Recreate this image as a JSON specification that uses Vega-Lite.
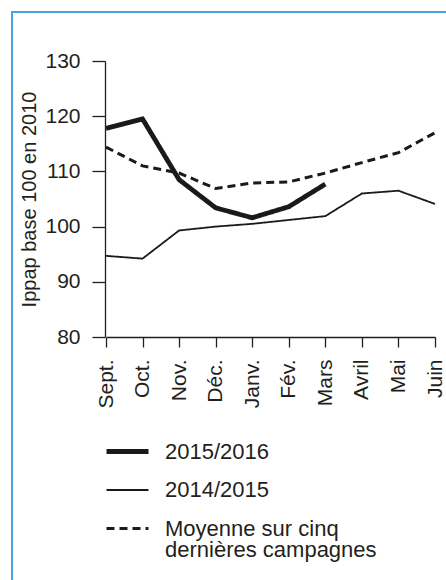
{
  "$schema": "https://vega.github.io/schema/vega-lite/v6.json",
  "width": 440,
  "height": 575,
  "autosize": {"type": "none"},
  "padding": {"left": 12, "top": 12, "right": 0, "bottom": 0},
  "background": "white",
  "config": {
    "view": {"stroke": "#4aa3df", "strokeWidth": 2},
    "font": "Liberation Sans"
  },
  "data": {
    "values": [
      {"mois": "Sept.", "serie": "2015/2016", "valeur": 117.8},
      {"mois": "Oct.", "serie": "2015/2016", "valeur": 119.5},
      {"mois": "Nov.", "serie": "2015/2016", "valeur": 108.5},
      {"mois": "Déc.", "serie": "2015/2016", "valeur": 103.4},
      {"mois": "Janv.", "serie": "2015/2016", "valeur": 101.6},
      {"mois": "Fév.", "serie": "2015/2016", "valeur": 103.6},
      {"mois": "Mars", "serie": "2015/2016", "valeur": 107.7},
      {"mois": "Sept.", "serie": "2014/2015", "valeur": 94.7},
      {"mois": "Oct.", "serie": "2014/2015", "valeur": 94.2},
      {"mois": "Nov.", "serie": "2014/2015", "valeur": 99.3},
      {"mois": "Déc.", "serie": "2014/2015", "valeur": 100.0},
      {"mois": "Janv.", "serie": "2014/2015", "valeur": 100.5},
      {"mois": "Fév.", "serie": "2014/2015", "valeur": 101.2},
      {"mois": "Mars", "serie": "2014/2015", "valeur": 101.9},
      {"mois": "Avril", "serie": "2014/2015", "valeur": 106.0},
      {"mois": "Mai", "serie": "2014/2015", "valeur": 106.5},
      {"mois": "Juin", "serie": "2014/2015", "valeur": 104.1},
      {"mois": "Sept.", "serie": "Moyenne sur cinq dernières campagnes", "valeur": 114.4},
      {"mois": "Oct.", "serie": "Moyenne sur cinq dernières campagnes", "valeur": 111.0},
      {"mois": "Nov.", "serie": "Moyenne sur cinq dernières campagnes", "valeur": 109.7},
      {"mois": "Déc.", "serie": "Moyenne sur cinq dernières campagnes", "valeur": 106.9},
      {"mois": "Janv.", "serie": "Moyenne sur cinq dernières campagnes", "valeur": 107.9},
      {"mois": "Fév.", "serie": "Moyenne sur cinq dernières campagnes", "valeur": 108.1},
      {"mois": "Mars", "serie": "Moyenne sur cinq dernières campagnes", "valeur": 109.7},
      {"mois": "Avril", "serie": "Moyenne sur cinq dernières campagnes", "valeur": 111.6},
      {"mois": "Mai", "serie": "Moyenne sur cinq dernières campagnes", "valeur": 113.4},
      {"mois": "Juin", "serie": "Moyenne sur cinq dernières campagnes", "valeur": 117.0}
    ]
  },
  "mark": {"type": "line", "color": "#1a1a1a", "strokeCap": "butt", "strokeJoin": "miter"},
  "encoding": {
    "x": {
      "field": "mois",
      "type": "ordinal",
      "sort": ["Sept.", "Oct.", "Nov.", "Déc.", "Janv.", "Fév.", "Mars", "Avril", "Mai", "Juin"],
      "scale": {"type": "point", "range": [94, 423], "padding": 0},
      "axis": {
        "title": null,
        "offset": -250,
        "labelAngle": -90,
        "labelAlign": "right",
        "labelBaseline": "middle",
        "labelFontSize": 21,
        "labelColor": "#231f20",
        "labelPadding": 12,
        "tickSize": 10,
        "tickColor": "#231f20",
        "tickWidth": 1.3,
        "domainColor": "#231f20",
        "domainWidth": 1.3,
        "grid": false
      }
    },
    "y": {
      "field": "valeur",
      "type": "quantitative",
      "scale": {"domain": [80, 130], "range": [325, 49], "nice": false, "zero": false},
      "axis": {
        "title": "Ippap base 100 en 2010",
        "titleFontSize": 20,
        "titleFontWeight": "normal",
        "titleColor": "#231f20",
        "titlePadding": 5,
        "offset": -93,
        "values": [80, 90, 100, 110, 120, 130],
        "labelFontSize": 21,
        "labelColor": "#231f20",
        "labelPadding": 12,
        "tickSize": 13,
        "tickColor": "#231f20",
        "tickWidth": 1.3,
        "domainColor": "#231f20",
        "domainWidth": 1.3,
        "grid": false
      }
    },
    "strokeWidth": {
      "field": "serie",
      "type": "nominal",
      "scale": {
        "type": "ordinal",
        "domain": ["2015/2016", "2014/2015", "Moyenne sur cinq dernières campagnes"],
        "range": [4.8, 1.8, 3]
      },
      "legend": {
        "title": null,
        "orient": "none",
        "legendX": 92,
        "legendY": 416,
        "symbolType": "stroke",
        "symbolSize": 1764,
        "symbolStrokeColor": "#1a1a1a",
        "labelFontSize": 22,
        "labelColor": "#231f20",
        "labelOffset": 14,
        "labelLimit": 400,
        "rowPadding": 5,
        "labelExpr": "datum.label == 'Moyenne sur cinq dernières campagnes' ? ['Moyenne sur cinq', 'dernières campagnes'] : datum.label",
        "encode": {"labels": {"update": {"lineHeight": {"value": 21}}}}
      }
    },
    "strokeDash": {
      "field": "serie",
      "type": "nominal",
      "scale": {
        "domain": ["2015/2016", "2014/2015", "Moyenne sur cinq dernières campagnes"],
        "range": [[1, 0], [1, 0], [8, 5]]
      },
      "legend": {
        "title": null,
        "orient": "none",
        "legendX": 92,
        "legendY": 416,
        "symbolType": "stroke",
        "symbolSize": 1764,
        "symbolStrokeColor": "#1a1a1a",
        "labelFontSize": 22,
        "labelColor": "#231f20",
        "labelOffset": 14,
        "labelLimit": 400,
        "rowPadding": 5,
        "labelExpr": "datum.label == 'Moyenne sur cinq dernières campagnes' ? ['Moyenne sur cinq', 'dernières campagnes'] : datum.label",
        "encode": {"labels": {"update": {"lineHeight": {"value": 21}}}}
      }
    }
  }
}
